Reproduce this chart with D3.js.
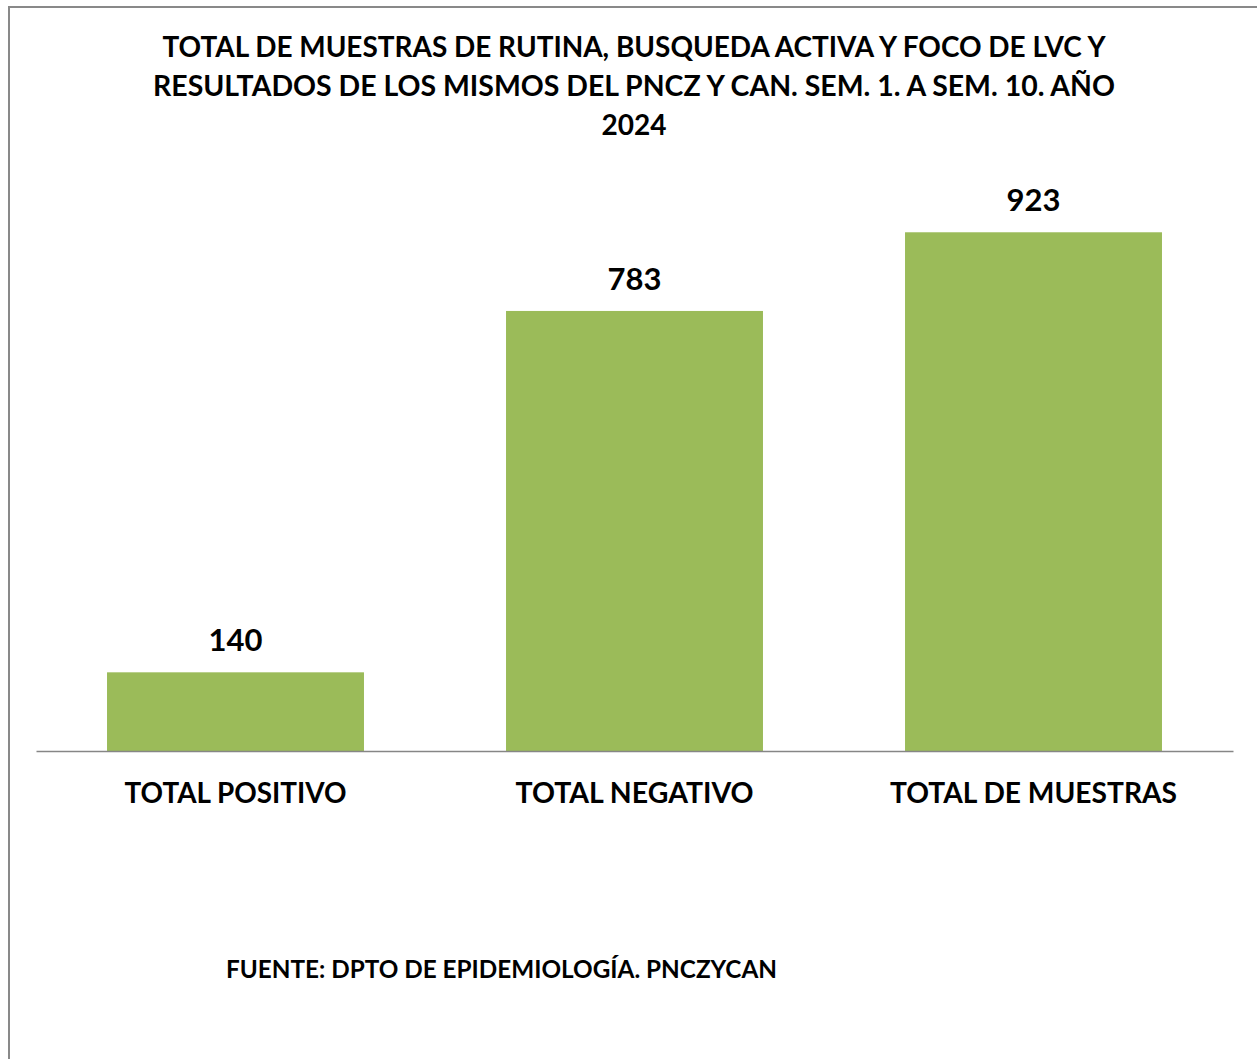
<!DOCTYPE html>
<html>
<head>
<meta charset="utf-8">
<script src="https://cdn.jsdelivr.net/npm/d3@7"></script>
<style>
  body { margin: 0; background: #fff; }
  svg text { font-family: "Lato", "Open Sans", sans-serif; font-weight: bold; fill: #000; }
</style>
</head>
<body>
<svg class="bars" width="1257" height="1059"></svg>
<script>
const categories = ["TOTAL POSITIVO", "TOTAL NEGATIVO", "TOTAL DE MUESTRAS"];
const values = [140, 783, 923];
const titleLines = [
    "TOTAL DE MUESTRAS DE RUTINA, BUSQUEDA ACTIVA Y FOCO DE LVC Y",
    "RESULTADOS DE LOS MISMOS DEL PNCZ Y CAN. SEM. 1. A SEM. 10. AÑO",
    "2024"
];
const source = "FUENTE: DPTO DE EPIDEMIOLOGÍA. PNCZYCAN";

const svg = d3.select("svg.bars");
const margin = {top: 189, right: 24, bottom: 308, left: 36};
const width = +svg.attr("width") - margin.left - margin.right;
const height = +svg.attr("height") - margin.top - margin.bottom;

// chart frame
svg.append("path")
    .attr("d", "M9,1059 V7 H1257")
    .attr("fill", "none")
    .attr("stroke", "#898989")
    .attr("stroke-width", 2);

const x = d3.scaleBand()
    .domain(categories)
    .range([0, width])
    .paddingInner(0.356)
    .paddingOuter(0.178);

const y = d3.scaleLinear()
    .domain([0, 1000])
    .range([height, 0]);

const g = svg.append("g")
    .attr("transform", `translate(${margin.left}, ${margin.top})`);

const data = categories.map((c, i) => ({cat: c, value: values[i]}));

g.selectAll(".bar")
    .data(data)
    .enter().append("rect")
    .attr("class", "bar")
    .attr("x", d => x(d.cat))
    .attr("y", d => y(d.value))
    .attr("width", x.bandwidth())
    .attr("height", d => height - y(d.value))
    .attr("fill", "#9bbb59");

const xAxis = d3.axisBottom(x).tickSize(0).tickPadding(0);
const ax = g.append("g")
    .attr("transform", `translate(0, ${height})`)
    .call(xAxis);
ax.select(".domain").attr("stroke", "#868686").attr("stroke-width", 1.3);
ax.selectAll(".tick text")
    .attr("dy", null)
    .attr("y", 52)
    .style("font-size", "28px")
    .style("font-family", null);

g.selectAll(".val")
    .data(data)
    .enter().append("text")
    .attr("class", "val")
    .attr("x", d => x(d.cat) + x.bandwidth() / 2)
    .attr("y", d => y(d.value) - 21)
    .attr("text-anchor", "middle")
    .style("font-size", "31px")
    .text(d => d.value);

// title
const title = svg.append("g").attr("class", "title");
title.selectAll("text")
    .data(titleLines)
    .enter().append("text")
    .attr("x", 634)
    .attr("y", (d, i) => 57 + i * 39)
    .attr("text-anchor", "middle")
    .style("font-size", "28px")
    .text(d => d);

const src = svg.append("text")
    .attr("x", 226)
    .attr("y", 978)
    .style("font-size", "25px")
    .text(source);

// stretch text to the widths seen in the picture
function fit(sel, w) {
    sel.attr("textLength", w).attr("lengthAdjust", "spacingAndGlyphs");
}
const titleWidths = [943, 962, null];
title.selectAll("text").each(function(d, i) {
    if (titleWidths[i]) fit(d3.select(this), titleWidths[i]);
});
ax.selectAll(".tick text").each(function(d, i) {
    fit(d3.select(this), [222, 238, 287][i]);
});
fit(src, 551);
</script>
</body>
</html>
